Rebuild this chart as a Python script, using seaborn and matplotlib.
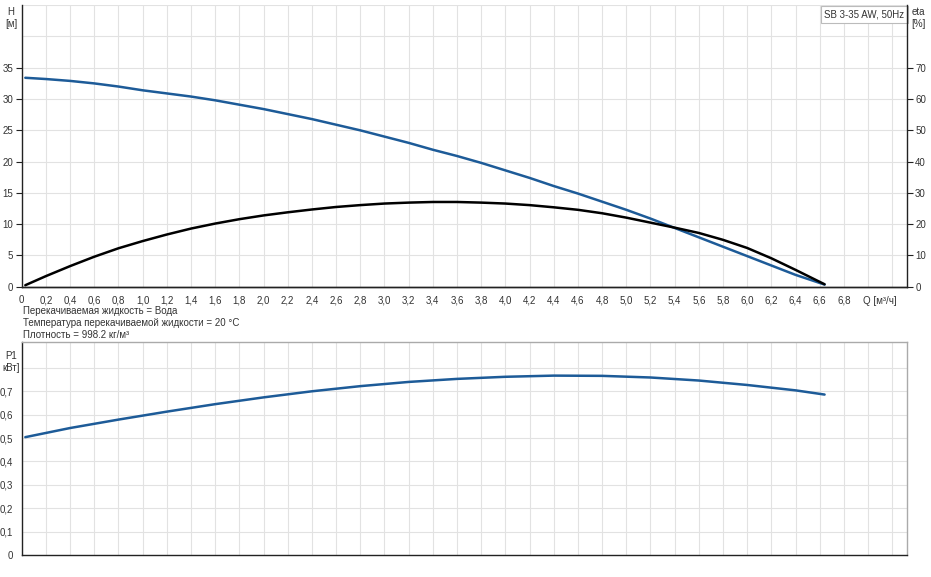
import numpy as np
import seaborn as sns
import matplotlib.pyplot as plt
from matplotlib.ticker import FixedLocator

sns.set_theme(style="white")
plt.rcParams['font.family'] = ['Liberation Sans', 'DejaVu Sans']

# pump curves (Q in m3/h)
q = [0.03, 0.2, 0.4, 0.6, 0.8, 1.0, 1.2, 1.4, 1.6, 1.8, 2.0, 2.2, 2.4,
     2.6, 2.8, 3.0, 3.2, 3.4, 3.6, 3.8, 4.0, 4.2, 4.4, 4.6, 4.8, 5.0,
     5.2, 5.4, 5.6, 5.8, 6.0, 6.2, 6.4, 6.64]
head = [33.4, 33.2, 32.9, 32.5, 32.0, 31.4, 30.9, 30.4, 29.8, 29.1, 28.4,
        27.6, 26.8, 25.9, 25.0, 24.0, 23.0, 21.9, 20.9, 19.8, 18.6, 17.4,
        16.1, 14.9, 13.6, 12.3, 10.9, 9.4, 7.9, 6.4, 4.9, 3.4, 1.9, 0.35]
eta = [0.5, 3.4, 6.6, 9.6, 12.3, 14.6, 16.7, 18.6, 20.2, 21.6, 22.8, 23.8,
       24.7, 25.5, 26.1, 26.6, 26.9, 27.1, 27.1, 26.9, 26.6, 26.1, 25.4,
       24.6, 23.5, 22.1, 20.5, 18.9, 17.2, 15.0, 12.4, 9.1, 5.4, 0.8]

q_p1 = [0.03, 0.4, 0.8, 1.2, 1.6, 2.0, 2.4, 2.8, 3.2, 3.6, 4.0, 4.4, 4.8,
        5.2, 5.6, 6.0, 6.4, 6.64]
p1 = [0.504, 0.543, 0.579, 0.613, 0.645, 0.674, 0.700, 0.722, 0.740,
      0.753, 0.762, 0.767, 0.766, 0.759, 0.746, 0.727, 0.704, 0.686]

q_labels = ['0', '0,2', '0,4', '0,6', '0,8', '1,0', '1,2', '1,4', '1,6',
            '1,8', '2,0', '2,2', '2,4', '2,6', '2,8', '3,0', '3,2', '3,4',
            '3,6', '3,8', '4,0', '4,2', '4,4', '4,6', '4,8', '5,0', '5,2',
            '5,4', '5,6', '5,8', '6,0', '6,2', '6,4', '6,6', '6,8', '', '']
h_ticks = [0, 5, 10, 15, 20, 25, 30, 35]
eta_ticks = [0, 10, 20, 30, 40, 50, 60, 70]
p1_ticks = [0, 0.1, 0.2, 0.3, 0.4, 0.5, 0.6, 0.7, 0.8]
p1_labels = ['0', '0,1', '0,2', '0,3', '0,4', '0,5', '0,6', '0,7', '']
notes = ['Перекачиваемая жидкость = Вода',
         'Температура перекачиваемой жидкости = 20 °C',
         'Плотность = 998.2 кг/м³']

blue = '#1d5b98'
grid_c = '#e2e2e2'
txt_c = '#333333'
fs = 7

fig = plt.figure(figsize=(9.31, 5.77), dpi=100)
ax = fig.add_axes([0.0233, 0.503, 0.9507, 0.488])
ax2 = ax.twinx()
axp = fig.add_axes([0.0233, 0.038, 0.9507, 0.369])

xmax = 7.32
qgrid = np.arange(0, 7.3, 0.2)

# --- head / efficiency ---
ax.set_xlim(0, xmax)
ax.set_ylim(0, 45)
ax2.set_ylim(0, 90)
ax.xaxis.set_major_locator(FixedLocator(qgrid))
ax.set_xticklabels(q_labels)
ax.yaxis.set_major_locator(FixedLocator(h_ticks))
ax.yaxis.set_minor_locator(FixedLocator([40, 45]))
ax.grid(True, which='both', color=grid_c, linewidth=0.8)
ax2.yaxis.set_major_locator(FixedLocator(eta_ticks))
ax2.grid(False)

sns.lineplot(x=q, y=head, ax=ax, color=blue, linewidth=1.8)
sns.lineplot(x=q, y=eta, ax=ax2, color='black', linewidth=1.8)

for a in (ax, ax2):
    a.spines['top'].set_visible(False)
    for s in ('left', 'right', 'bottom'):
        a.spines[s].set_color('#222222')
        a.spines[s].set_linewidth(1.0)
    a.tick_params(axis='both', which='major', direction='out', length=4,
                  width=0.8, color='#222222', labelsize=fs,
                  labelcolor=txt_c, pad=2)
    a.tick_params(axis='y', which='minor', length=0)
    a.set_xlabel('')
    a.set_ylabel('')
ax2.spines['left'].set_visible(False)
ax.spines['right'].set_visible(False)

fig.text(0.012, 0.988, 'H\n[м]', fontsize=fs, color=txt_c, ha='center',
         va='top', linespacing=1.3)
fig.text(0.986, 0.988, 'eta\n[%]', fontsize=fs, color=txt_c, ha='center',
         va='top', linespacing=1.3)
fig.text(0.945, 0.487, 'Q [м³/ч]', fontsize=fs, color=txt_c, ha='center',
         va='top')
ax.text(0.997, 0.985, 'SB 3-35 AW, 50Hz', transform=ax.transAxes,
        fontsize=fs, color=txt_c, ha='right', va='top',
        bbox=dict(boxstyle='square,pad=0.35', facecolor='white',
                  edgecolor='#bbbbbb', linewidth=0.8))

for i, line in enumerate(notes):
    fig.text(0.0245, 0.461 - i * 0.0205, line, fontsize=fs, color=txt_c,
             ha='left', va='center')

# --- power ---
axp.set_xlim(0, xmax)
axp.set_ylim(0, 0.91)
axp.xaxis.set_major_locator(FixedLocator(qgrid))
axp.set_xticklabels([])
axp.yaxis.set_major_locator(FixedLocator(p1_ticks))
axp.set_yticklabels(p1_labels)
axp.grid(True, color=grid_c, linewidth=0.8)
sns.lineplot(x=q_p1, y=p1, ax=axp, color=blue, linewidth=1.8)
axp.set_xlabel('')
axp.set_ylabel('')
for s in ('left', 'bottom'):
    axp.spines[s].set_color('#222222')
    axp.spines[s].set_linewidth(1.0)
for s in ('top', 'right'):
    axp.spines[s].set_color('#aaaaaa')
    axp.spines[s].set_linewidth(1.0)
axp.tick_params(axis='y', direction='out', length=4, width=0.8,
                color='#222222', labelsize=fs, labelcolor=txt_c, pad=2)
axp.tick_params(axis='x', length=0)

fig.text(0.012, 0.392, 'P1\nкВт]', fontsize=fs, color=txt_c, ha='center',
         va='top', linespacing=1.3)

fig.savefig('out.png', dpi=100)
